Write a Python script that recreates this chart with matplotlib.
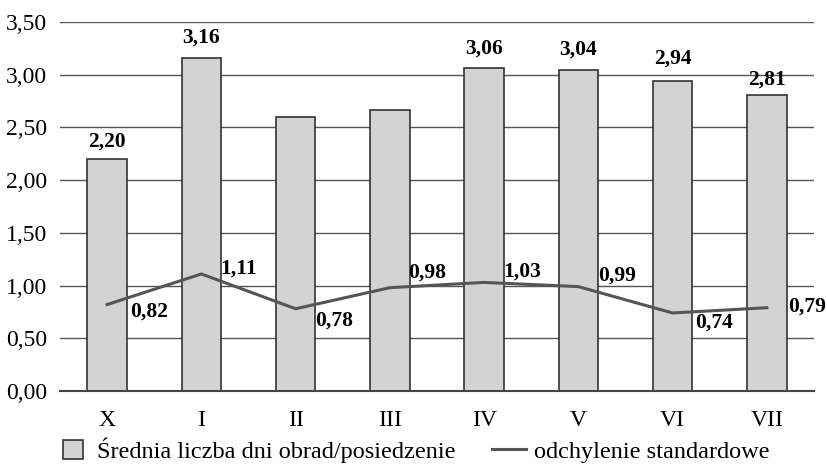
import matplotlib.pyplot as plt
import numpy as np
from matplotlib.patches import Rectangle
from matplotlib.legend_handler import HandlerPatch

# dane
kategorie = ['X', 'I', 'II', 'III', 'IV', 'V', 'VI', 'VII']
srednia = [2.20, 3.16, 2.60, 2.67, 3.06, 3.04, 2.94, 2.81]
odchylenie = [0.82, 1.11, 0.78, 0.98, 1.03, 0.99, 0.74, 0.79]
etykiety_slupkow = ['2,20', '3,16', '', '', '3,06', '3,04', '2,94', '2,81']
etykiety_linii = ['0,82', '1,11', '0,78', '0,98', '1,03', '0,99', '0,74', '0,79']
y_ticki = [0, 0.5, 1.0, 1.5, 2.0, 2.5, 3.0, 3.5]

plt.rcParams['font.family'] = ['Liberation Serif', 'DejaVu Serif']

W, H = 828, 465
fig = plt.figure(figsize=(W / 100, H / 100), dpi=100)
ax = fig.add_axes([60 / W, 1 - 391 / H, (814 - 60) / W, (391 - 22) / H])

x = np.arange(len(kategorie))
slupki = ax.bar(x, srednia, width=0.42, color='#d3d3d3', edgecolor='#333333',
                linewidth=1.2, zorder=2)
linia, = ax.plot(x, odchylenie, color='#555555', linewidth=2.2, zorder=3)

# etykiety nad slupkami (przesuniecie w pikselach)
odst_slupki = [17, 20, 0, 0, 20, 21, 22, 15]
for xi, v, t, dy in zip(x, srednia, etykiety_slupkow, odst_slupki):
    if t:
        ax.annotate(t, (xi, v), xytext=(0, dy), textcoords='offset pixels',
                    ha='center', va='center', fontsize=15.5, fontweight='bold')

# etykiety linii
odst_linia = [(42, -7), (37, 5), (39, -12), (37, 15), (38, 11), (39, 11), (41, -10), (40, 1)]
for xi, v, t, (dx, dy) in zip(x, odchylenie, etykiety_linii, odst_linia):
    ax.annotate(t, (xi, v), xytext=(dx, dy), textcoords='offset pixels',
                ha='center', va='center', fontsize=15.5, fontweight='bold')

ax.set_xlim(-0.5, len(kategorie) - 0.5)
ax.set_ylim(0, 3.5)
ax.set_yticks(y_ticki)
ax.set_yticklabels([f'{v:.2f}'.replace('.', ',') for v in y_ticki], fontsize=17)
ax.set_xticks(x)
ax.set_xticklabels(kategorie, fontsize=17)
ax.tick_params(axis='y', length=0, pad=9)
ax.tick_params(axis='x', length=0, pad=14)
ax.grid(axis='y', color='#555555', linewidth=1.0, zorder=0)
ax.set_axisbelow(True)
for s in ['top', 'right', 'left']:
    ax.spines[s].set_visible(False)
ax.spines['bottom'].set_color('#444444')
ax.spines['bottom'].set_linewidth(1.5)


# kwadratowy znacznik w legendzie
def kwadrat(legend, orig_handle, xdescent, ydescent, width, height, fontsize):
    s = 13.7
    return Rectangle((-xdescent + (width - s) / 2, -ydescent + (height - s) / 2), s, s)


uchwyt = slupki.patches[0]
fig.legend([uchwyt, linia],
           ['Średnia liczba dni obrad/posiedzenie', 'odchylenie standardowe'],
           handler_map={uchwyt: HandlerPatch(patch_func=kwadrat)},
           loc='center left', bbox_to_anchor=(56 / W, 1 - 450 / H), ncol=2,
           frameon=False, fontsize=17.5, handlelength=1.4, columnspacing=1.5,
           handletextpad=0.3, borderpad=0, borderaxespad=0)

fig.savefig('out.png', dpi=100)
